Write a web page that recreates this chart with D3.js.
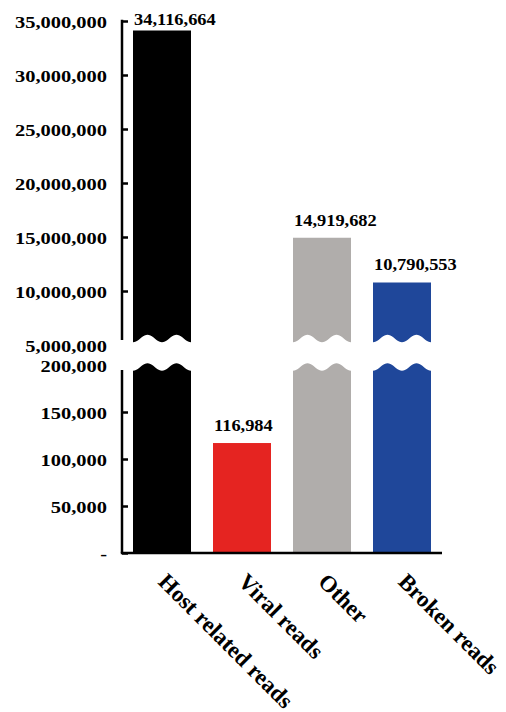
<!DOCTYPE html>
<html><head><meta charset="utf-8">
<script src="https://cdn.jsdelivr.net/npm/d3@7"></script>
<style>html,body{margin:0;padding:0;background:#fff;} svg{display:block}</style>
</head><body>
<svg id="chart" width="506" height="712"></svg>
<script>
const categories = ["Host related reads", "Viral reads", "Other", "Broken reads"];
const values = [34116664, 116984, 14919682, 10790553];
const colors = ["#000000", "#e52421", "#b0adab", "#1f479a"];
const upperTicks = [5000000, 10000000, 15000000, 20000000, 25000000, 30000000, 35000000];
const lowerTicks = [0, 50000, 100000, 150000, 200000];
const upperDomain = [5000000, 35000000];
const lowerDomain = [0, 200000];

const svg = d3.select("#chart");
svg.append("rect").attr("width", 506).attr("height", 712).attr("fill", "#fff");

const X0 = 122, X1 = 442;
const x = d3.scaleBand().domain(categories).range([X0, X1]).paddingInner(0.275).paddingOuter(0.1375);
const yU = d3.scaleLinear().domain(upperDomain).range([345, 21]);
const yL = d3.scaleLinear().domain(lowerDomain).range([553, 365]);
const upperAxisEnd = 340, lowerAxisStart = 370;
const upperCut = 338.5, lowerCut = 367, amp = 3.8;
const SX = 1.17;
const font = "'Times New Roman','Liberation Serif',serif";
const fmt = v => v === 0 ? "-" : d3.format(",")(v);

function wave(x0, w, cut, reverse) {
  const pts = d3.range(0, 41).map(i => {
    const t = i / 40;
    return [x0 + w * t, cut + amp * Math.cos(4 * Math.PI * t)];
  });
  return reverse ? pts.reverse() : pts;
}
const line = d3.line();

// bars
const bw = x.bandwidth();
categories.forEach((c, i) => {
  const v = values[i];
  const bx = x(c);
  if (v <= lowerDomain[1]) {
    svg.append("rect").attr("x", bx).attr("y", yL(v)).attr("width", bw)
      .attr("height", yL(0) - yL(v)).attr("fill", colors[i]);
  } else {
    const lowPts = [[bx, yL(0)]].concat(wave(bx, bw, lowerCut, false)).concat([[bx + bw, yL(0)]]);
    svg.append("path").attr("d", line(lowPts) + "Z").attr("fill", colors[i]);
    const upPts = [[bx, yU(v)], [bx + bw, yU(v)]].concat(wave(bx, bw, upperCut, true));
    svg.append("path").attr("d", line(upPts) + "Z").attr("fill", colors[i]);
  }
});

// axes
function drawAxis(scale, ticks, y0, y1) {
  const g = svg.append("g").attr("transform", `translate(${X0},0)`);
  g.call(d3.axisLeft(scale).tickValues(ticks).tickSize(-6).tickPadding(15).tickFormat(fmt));
  g.select(".domain").remove();
  g.selectAll(".tick line").attr("stroke", "#000").attr("stroke-width", 2.5)
    .attr("display", d => (scale(d) >= y0 - 1 && scale(d) <= y1 + 1) ? null : "none");
  g.selectAll(".tick text")
    .attr("x", null).attr("dy", "0.35em")
    .attr("transform", `translate(-15,0) scale(${SX},1)`)
    .attr("font-family", font).attr("font-weight", "bold").attr("font-size", 17.5)
    .attr("fill", "#000");
  g.append("line").attr("x1", 0).attr("x2", 0).attr("y1", y0).attr("y2", y1)
    .attr("stroke", "#000").attr("stroke-width", 2.5);
}
drawAxis(yU, upperTicks, yU(upperDomain[1]) - 1.2, upperAxisEnd);
drawAxis(yL, lowerTicks, lowerAxisStart, yL(0));

svg.append("line").attr("x1", X0 - 1.2).attr("x2", X1).attr("y1", yL(0)).attr("y2", yL(0))
  .attr("stroke", "#000").attr("stroke-width", 2.5);

// value labels
categories.forEach((c, i) => {
  const v = values[i];
  const top = v <= lowerDomain[1] ? yL(v) : yU(v);
  const ty = Math.max(top - 12, 25);
  svg.append("text")
    .attr("transform", `translate(${x(c) + 1},${ty}) scale(${1.15},1)`)
    .attr("font-family", font).attr("font-weight", "bold").attr("font-size", 16)
    .attr("fill", "#000").text(fmt(v));
});

// category labels
categories.forEach(c => {
  const cx = x(c) + bw / 2;
  svg.append("text")
    .attr("transform", `translate(${cx - 5},583) rotate(45)`)
    .attr("font-family", font).attr("font-weight", "bold").attr("font-size", 23)
    .attr("fill", "#000").text(c);
});
</script>
</body></html>
